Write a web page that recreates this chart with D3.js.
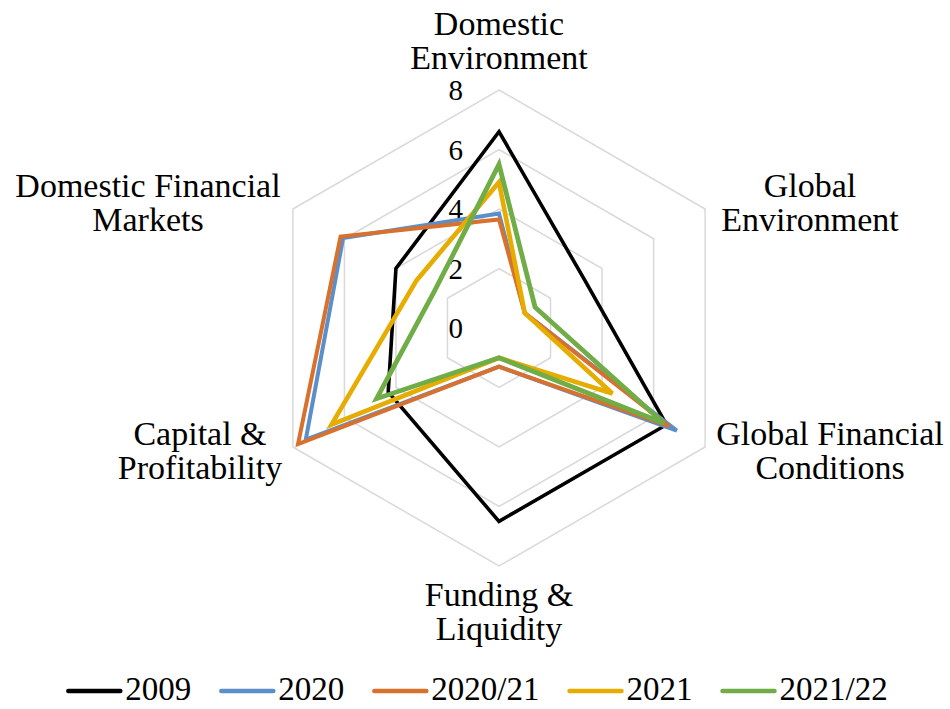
<!DOCTYPE html>
<html>
<head>
<meta charset="utf-8">
<script src="https://cdn.jsdelivr.net/npm/d3@7"></script>
<style>
  body { margin: 0; background: #fff; }
  svg text { font-family: "Liberation Serif", "Times New Roman", serif; fill: #000; }
</style>
</head>
<body>
<div id="chart"></div>
<script>
// Radar chart of risk dimensions, one closed line per period

const categories = [
    ['Domestic', 'Environment'],
    ['Global', 'Environment'],
    ['Global Financial', 'Conditions'],
    ['Funding &', 'Liquidity'],
    ['Capital &', 'Profitability'],
    ['Domestic Financial', 'Markets']
];

const seriesNames = ['2009', '2020', '2020/21', '2021', '2021/22'];
const values2009 = [6.6, 3.3, 6.5, 6.5, 4.3, 4.0];
const values2020 = [3.85, 1.0, 6.9, 1.3, 7.5, 6.05];
const values2020_21 = [3.65, 1.0, 6.6, 1.3, 7.8, 6.15];
const values2021 = [4.9, 1.0, 4.4, 1.0, 6.5, 3.2];
const values2021_22 = [5.5, 1.4, 6.4, 1.0, 4.75, 2.5];
const tickValues = [0, 2, 4, 6, 8];

const seriesValues = [values2009, values2020, values2020_21, values2021, values2021_22];
const colors = ['#000000', '#5a8fca', '#d8702e', '#e6ac00', '#70ad47'];
const widths = [3.6, 4, 4, 4.6, 4.8];

const width = 950, height = 709;
const cx = 499, cy = 328;

const svg = d3.select('#chart')
    .append('svg')
    .attr('width', width)
    .attr('height', height);

const r = d3.scaleLinear().domain([0, 8]).range([0, 238]);
const angle = d3.scalePoint()
    .domain(d3.range(categories.length))
    .range([0, 2 * Math.PI * (categories.length - 1) / categories.length]);

const g = svg.append('g').attr('transform', `translate(${cx},${cy})`);

// hexagon gridlines
const ring = d3.lineRadial()
    .angle((d, i) => angle(i))
    .radius(d => r(d))
    .curve(d3.curveLinearClosed);

g.selectAll('path.grid')
    .data(tickValues.filter(v => v > 0))
    .join('path')
    .attr('class', 'grid')
    .attr('d', v => ring(categories.map(() => v)))
    .attr('fill', 'none')
    .attr('stroke', '#d9d9d9')
    .attr('stroke-width', 1.5);

// value labels, left of the vertical axis
g.selectAll('text.tick')
    .data(tickValues)
    .join('text')
    .attr('class', 'tick')
    .attr('x', -36)
    .attr('y', d => -r(d) + 10)
    .attr('text-anchor', 'end')
    .attr('font-size', 29)
    .text(d => d);

// series lines
g.selectAll('path.series')
    .data(seriesValues)
    .join('path')
    .attr('class', 'series')
    .attr('d', d => ring(d))
    .attr('fill', 'none')
    .attr('stroke', (d, i) => colors[i])
    .attr('stroke-width', (d, i) => widths[i])
    .attr('stroke-linejoin', 'miter');

// category labels
const labelPos = [
    {x: 499, y: 35},
    {x: 810, y: 197},
    {x: 830, y: 445},
    {x: 499, y: 606},
    {x: 200, y: 445},
    {x: 148, y: 197}
];

categories.forEach((lines, i) => {
    const t = svg.append('text')
        .attr('text-anchor', 'middle')
        .attr('font-size', 34);
    lines.forEach((line, j) => {
        t.append('tspan')
            .attr('x', labelPos[i].x)
            .attr('y', labelPos[i].y + j * 34)
            .text(line);
    });
});

// legend
const legend = svg.append('g');
let lx = 0;
seriesNames.forEach((name, i) => {
    const item = legend.append('g').attr('transform', `translate(${lx},0)`);
    item.append('line')
        .attr('x1', 0).attr('x2', 52)
        .attr('y1', 691).attr('y2', 691)
        .attr('stroke', colors[i])
        .attr('stroke-width', 4.5)
        .attr('stroke-linecap', 'round');
    const txt = item.append('text')
        .attr('x', 57)
        .attr('y', 700)
        .attr('font-size', 33)
        .text(name);
    lx += 57 + txt.node().getComputedTextLength() + 30;
});
const legendWidth = lx - 30;
legend.attr('transform', `translate(${478 - legendWidth / 2},0)`);
</script>
</body>
</html>
